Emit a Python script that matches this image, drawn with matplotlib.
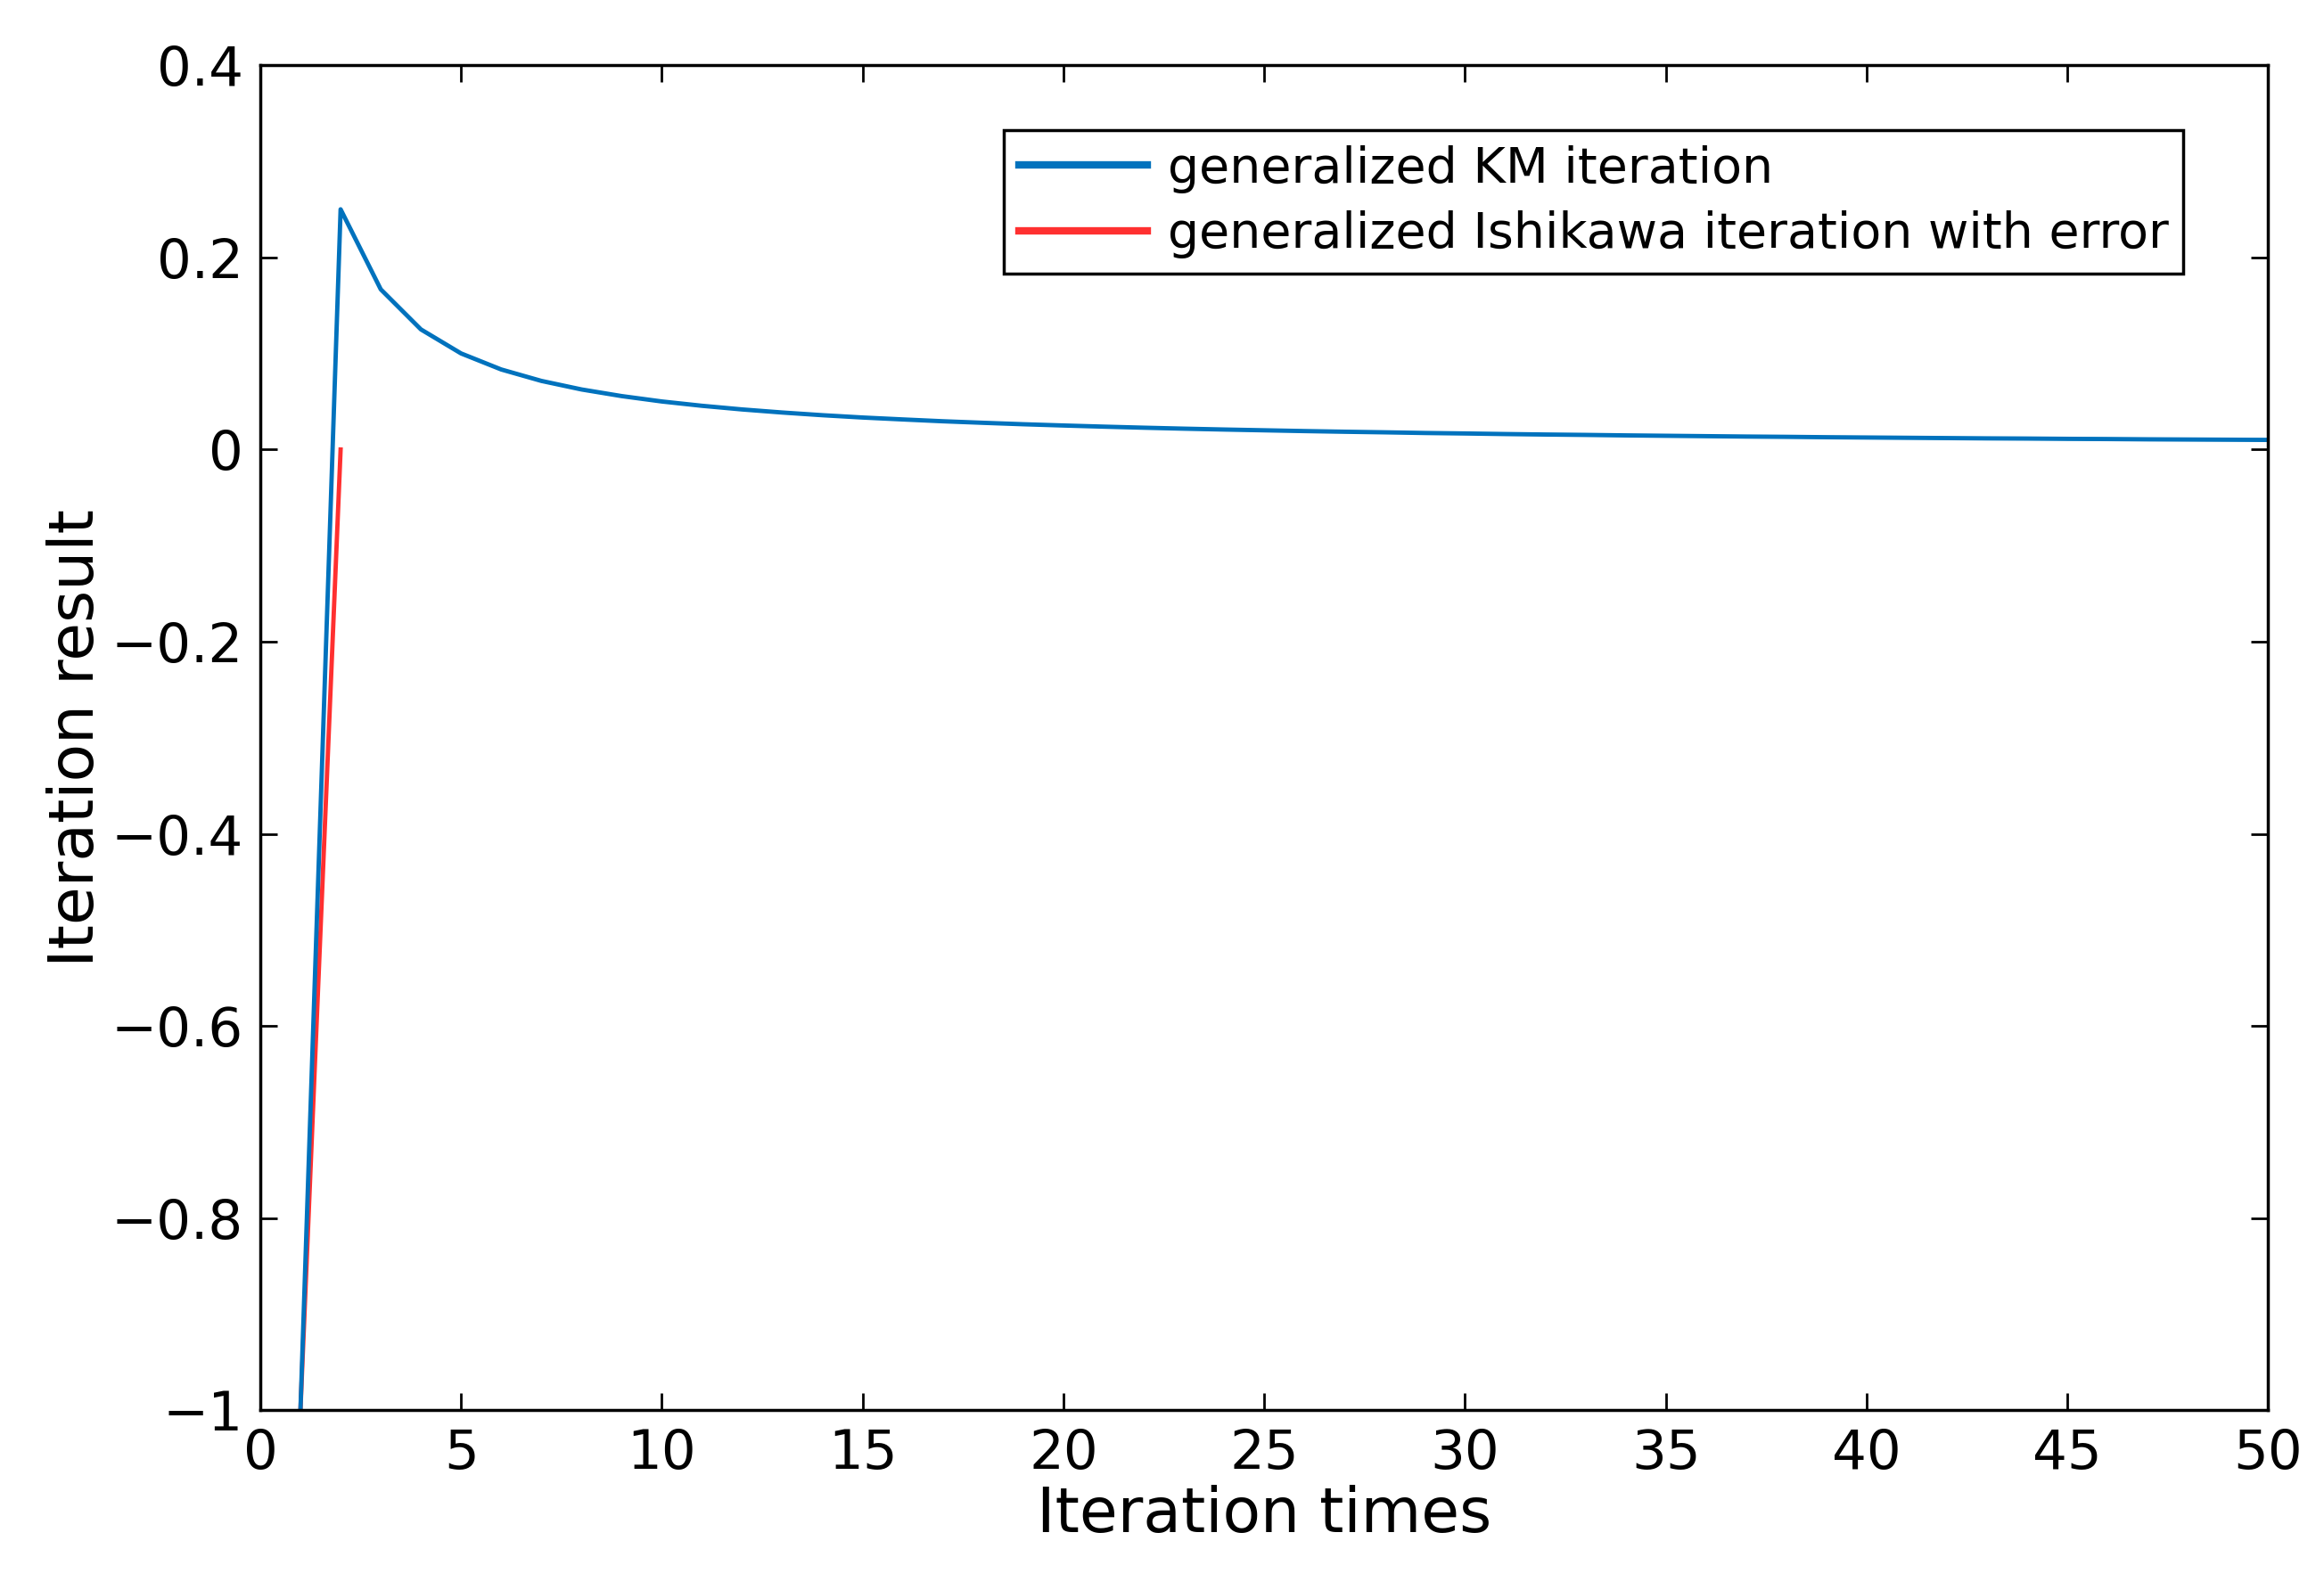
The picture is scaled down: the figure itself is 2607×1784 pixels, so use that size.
import matplotlib
matplotlib.use("Agg")
import matplotlib.pyplot as plt

iterations = list(range(1, 51))
km_values = [-1.0, 0.25, 0.1667, 0.125, 0.1, 0.0833, 0.0714, 0.0625, 0.0556, 0.05,
             0.0455, 0.0417, 0.0385, 0.0357, 0.0333, 0.0313, 0.0294, 0.0278, 0.0263, 0.025,
             0.0238, 0.0227, 0.0217, 0.0208, 0.02, 0.0192, 0.0185, 0.0179, 0.0172, 0.0167,
             0.0161, 0.0156, 0.0152, 0.0147, 0.0143, 0.0139, 0.0135, 0.0132, 0.0128, 0.0125,
             0.0122, 0.0119, 0.0116, 0.0114, 0.0111, 0.0109, 0.0106, 0.0104, 0.0102, 0.01]
ish_x = [1, 2]
ish_values = [-1.0, 0.0]

fig = plt.figure(figsize=(26.07, 17.84), dpi=100)
ax = fig.add_axes([0.112, 0.113, 0.864, 0.846])
ax.plot(ish_x, ish_values, color="#ff3030", lw=3.5, label="generalized Ishikawa iteration with error")
ax.plot(iterations, km_values, color="#0072bd", lw=3.5, label="generalized KM iteration")
ax.set_xlim(0, 50)
ax.set_ylim(-1, 0.4)
ax.set_xticks(range(0, 51, 5))
ax.set_yticks([-1, -0.8, -0.6, -0.4, -0.2, 0, 0.2, 0.4])
ax.set_yticklabels(["\u22121", "\u22120.8", "\u22120.6", "\u22120.4", "\u22120.2", "0", "0.2", "0.4"])
ax.tick_params(labelsize=44, direction="in", length=14, width=2, top=True, right=True, pad=14)
for s in ax.spines.values():
    s.set_linewidth(2.5)
ax.set_xlabel("Iteration times", fontsize=50)
ax.set_ylabel("Iteration result", fontsize=50)
h, l = ax.get_legend_handles_labels()
leg = ax.legend(h[::-1], l[::-1], loc="upper right", fontsize=40, fancybox=False,
                edgecolor="black", framealpha=1, handlelength=2.6, handletextpad=0.4,
                borderpad=0.3, labelspacing=0.35, bbox_to_anchor=(0.97, 0.97))
leg.get_frame().set_linewidth(2.5)
for line in leg.get_lines():
    line.set_linewidth(6)
fig.savefig("out.png")
